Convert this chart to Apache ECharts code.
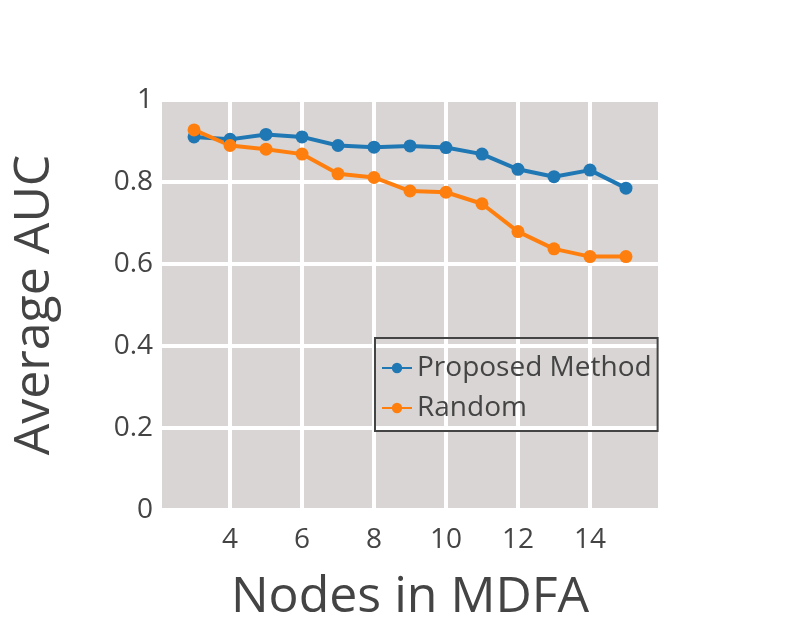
<!DOCTYPE html>
<html>
<head>
<meta charset="utf-8">
<script src="https://cdn.jsdelivr.net/npm/echarts@6/dist/echarts.min.js"></script>
<style>html,body{margin:0;padding:0;background:#fff}#c{width:800px;height:630px}</style>
</head>
<body>
<div id="c"></div>
<script>
const nodes = [3,4,5,6,7,8,9,10,11,12,13,14,15];
const proposed = [0.910,0.904,0.916,0.910,0.889,0.885,0.888,0.884,0.868,0.831,0.813,0.829,0.785];
const random = [0.927,0.889,0.880,0.868,0.820,0.811,0.778,0.775,0.747,0.679,0.637,0.618,0.618];
const xTicks = [4,6,8,10,12,14];
const yTicks = [0,0.2,0.4,0.6,0.8,1];

const font = '"Open Sans", sans-serif';
const chart = echarts.init(document.getElementById('c'), null, {renderer:'canvas'});
chart.setOption({
  backgroundColor: '#fff',
  animation: false,
  textStyle: {fontFamily: font, color: '#444'},
  grid: {left: 162, right: 142, top: 100, bottom: 120, show: true, backgroundColor: '#d9d5d4', borderWidth: 0},
  legend: {
    orient: 'vertical', left: 375, top: 338,
    padding: [16, 6, 9, 6],
    borderColor: '#444', borderWidth: 2, backgroundColor: 'transparent',
    itemWidth: 30, itemHeight: 13, itemGap: 12,
    textStyle: {fontFamily: font, fontSize: 28, color: '#444'},
    data: ['Proposed Method', 'Random']
  },
  xAxis: {
    type: 'value', min: 2.11, max: 15.89,
    name: 'Nodes in MDFA', nameLocation: 'middle', nameGap: 63,
    nameTextStyle: {fontFamily: font, fontSize: 50, color: '#444'},
    axisLine: {show: false}, axisTick: {show: false, customValues: xTicks},
    axisLabel: {customValues: xTicks, fontFamily: font, fontSize: 28, color: '#444', margin: 16},
    splitLine: {show: true, lineStyle: {color: '#fff', width: 4}}
  },
  yAxis: {
    type: 'value', min: 0, max: 1, interval: 0.2,
    name: 'Average AUC', nameLocation: 'middle', nameGap: 102,
    nameTextStyle: {fontFamily: font, fontSize: 50, color: '#444'},
    axisLine: {show: false}, axisTick: {show: false},
    axisLabel: {fontFamily: font, fontSize: 28, color: '#444', margin: 9,
      formatter: v => (Math.round(v*10)/10).toString()},
    splitLine: {show: true, lineStyle: {color: '#fff', width: 4}}
  },
  series: [
    {name: 'Proposed Method', type: 'line', data: nodes.map((x,i)=>[x, proposed[i]]),
     symbol: 'circle', symbolSize: 13, itemStyle: {color: '#1f77b4'}, lineStyle: {width: 4, color: '#1f77b4'}},
    {name: 'Random', type: 'line', data: nodes.map((x,i)=>[x, random[i]]),
     symbol: 'circle', symbolSize: 13, itemStyle: {color: '#ff7f0e'}, lineStyle: {width: 4, color: '#ff7f0e'}}
  ]
});
</script>
</body>
</html>
